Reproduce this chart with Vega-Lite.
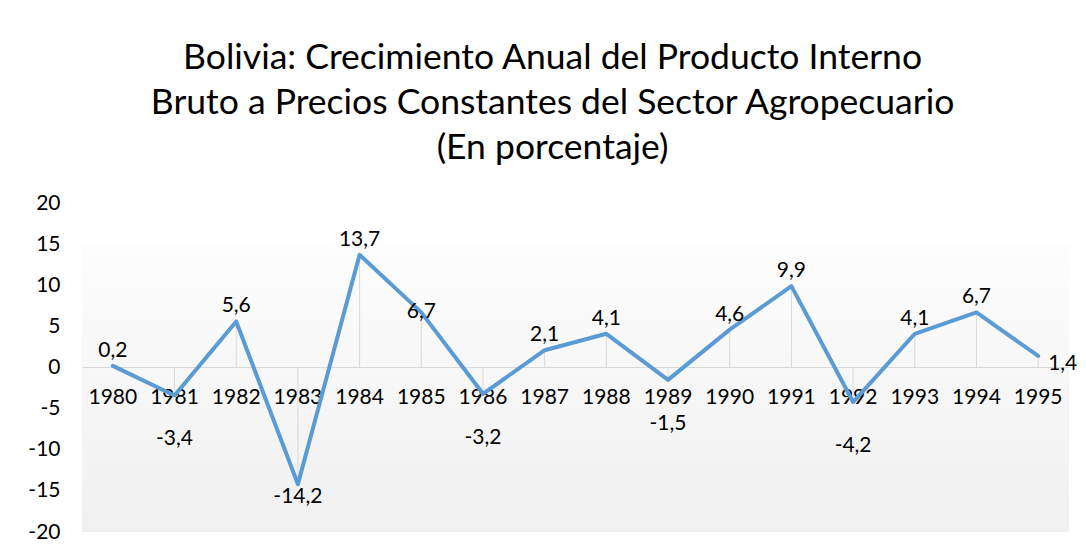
{
  "$schema": "https://vega.github.io/schema/vega-lite/v6.json",
  "width": 987,
  "height": 329,
  "autosize": {"type": "none"},
  "padding": {"left": 82, "top": 203, "right": 17, "bottom": 22},
  "background": "white",
  "title": {
    "text": ["Bolivia: Crecimiento Anual del Producto Interno", "Bruto a Precios Constantes del Sector Agropecuario", "(En porcentaje)"],
    "font": "Lato",
    "fontSize": 35.5,
    "fontWeight": "normal",
    "color": "#000000",
    "lineHeight": 45,
    "anchor": "middle",
    "frame": "bounds",
    "offset": 26
  },
  "data": {
    "values": [
      {"year": "1980", "v": 0.2},
      {"year": "1981", "v": -3.4},
      {"year": "1982", "v": 5.6},
      {"year": "1983", "v": -14.2},
      {"year": "1984", "v": 13.7},
      {"year": "1985", "v": 6.7},
      {"year": "1986", "v": -3.2},
      {"year": "1987", "v": 2.1},
      {"year": "1988", "v": 4.1},
      {"year": "1989", "v": -1.5},
      {"year": "1990", "v": 4.6},
      {"year": "1991", "v": 9.9},
      {"year": "1992", "v": -4.2},
      {"year": "1993", "v": 4.1},
      {"year": "1994", "v": 6.7},
      {"year": "1995", "v": 1.4}
    ]
  },
  "encoding": {
    "x": {
      "field": "year", "type": "ordinal",
      "scale": {"paddingInner": 0, "paddingOuter": 0},
      "axis": {
        "title": null, "labelAngle": 0, "offset": -165, "domain": true, "domainColor": "#d9d9d9", "domainWidth": 1,
        "ticks": false, "tickSize": 0, "labelPadding": 19, "labelFont": "Lato", "labelFontSize": 21, "labelColor": "#000000"
      }
    },
    "y": {
      "field": "v", "type": "quantitative",
      "scale": {"domain": [-20, 20], "nice": false},
      "axis": {
        "title": null, "values": [-20, -15, -10, -5, 0, 5, 10, 15, 20], "grid": false, "domain": false, "ticks": false, "tickSize": 0,
        "labelPadding": 22, "labelFont": "Lato", "labelFontSize": 21, "labelColor": "#000000", "format": "d"
      }
    }
  },
  "layer": [
    {
      "mark": {"type": "rule", "color": "#d9d9d9", "strokeWidth": 1},
      "encoding": {"y2": {"datum": 0}}
    },
    {
      "mark": {"type": "line", "color": "#5B9BD5", "strokeWidth": 4, "strokeJoin": "round", "strokeCap": "round"}
    },
    {
      "transform": [{"filter": "datum.v >= 0 && datum.year != '1995' && datum.year != '1985'"}],
      "mark": {"type": "text", "font": "Lato", "fontSize": 21, "color": "#000000", "baseline": "middle", "dy": -15},
      "encoding": {"text": {"field": "v", "type": "quantitative", "format": ".1f"}}
    },
    {
      "transform": [{"filter": "datum.year == '1985'"}],
      "mark": {"type": "text", "font": "Lato", "fontSize": 21, "color": "#000000", "baseline": "middle", "dy": 0},
      "encoding": {"text": {"field": "v", "type": "quantitative", "format": ".1f"}}
    },
    {
      "transform": [{"filter": "datum.year == '1995'"}],
      "mark": {"type": "text", "font": "Lato", "fontSize": 21, "color": "#000000", "baseline": "middle", "align": "left", "dx": 10, "dy": 8},
      "encoding": {"text": {"field": "v", "type": "quantitative", "format": ".1f"}}
    },
    {
      "transform": [{"filter": "datum.v < 0 && datum.v > -10"}],
      "mark": {"type": "text", "font": "Lato", "fontSize": 21, "color": "#000000", "baseline": "middle", "dy": 44},
      "encoding": {"text": {"field": "v", "type": "quantitative", "format": ".1f"}}
    },
    {
      "transform": [{"filter": "datum.v <= -10"}],
      "mark": {"type": "text", "font": "Lato", "fontSize": 21, "color": "#000000", "baseline": "middle", "dy": 13},
      "encoding": {"text": {"field": "v", "type": "quantitative", "format": ".1f"}}
    }
  ],
  "config": {
    "locale": {"number": {"decimal": ",", "thousands": ".", "grouping": [3], "currency": ["", ""], "minus": "-"}},
    "view": {
      "stroke": null,
      "fill": {"gradient": "linear", "x1": 0, "y1": 0, "x2": 0, "y2": 1, "stops": [{"offset": 0, "color": "#ffffff"}, {"offset": 0.12, "color": "#ffffff"}, {"offset": 0.13, "color": "#fdfdfd"}, {"offset": 1, "color": "#f0f0f0"}]}
    }
  }
}
